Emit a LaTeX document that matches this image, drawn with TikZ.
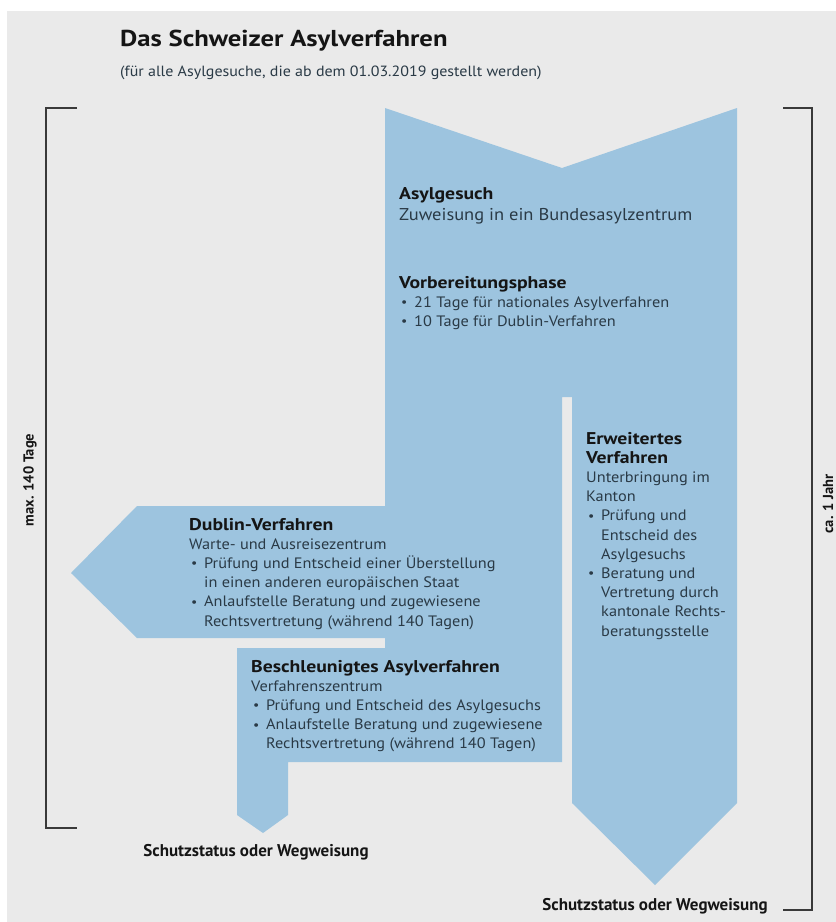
\documentclass[tikz,border=0pt]{standalone}
\usepackage{fontspec}
\setmainfont{PT Sans}[FakeStretch=1.08]
\newfontfamily\hdfont{PT Sans}[FakeStretch=1.16]
\newfontfamily\lblfont{PT Sans}
\definecolor{bg}{HTML}{EAEAEA}
\definecolor{flow}{HTML}{9DC4DF}
\definecolor{ink}{HTML}{151515}
\definecolor{bodyink}{HTML}{2A3A46}
\definecolor{rulec}{HTML}{3A3A3A}
\newcommand{\Hd}[1]{\hbox{\fontsize{17}{19.2}\hdfont\bfseries\color{ink}#1}}
\newcommand{\Tx}[1]{\hbox{#1}}
\newcommand{\Dot}{\raisebox{0.6pt}{\scalebox{0.85}{\textbullet}}}
\newcommand{\Bu}[1]{\hbox{\hspace*{2pt}\makebox[13pt][l]{\Dot}#1}}
\newcommand{\Co}[1]{\hbox{\hspace*{15pt}#1}}
\newcommand{\Blk}[1]{\vtop{\baselineskip=19.2pt\lineskiplimit=-100pt\relax #1}}
\tikzset{
  txt/.style={anchor=base west, inner sep=0pt, font=\fontsize{15.1}{19.2}\selectfont, text=bodyink},
  sidelabel/.style={rotate=90, inner sep=0pt, font=\fontsize{14.5}{16}\lblfont\bfseries, text=ink},
  outlabel/.style={anchor=base, inner sep=0pt, font=\fontsize{17}{19}\lblfont\bfseries, text=ink},
  bracket/.style={draw=rulec, line width=1.3pt},
}
\begin{document}
\begin{tikzpicture}[x=1pt,y=-1pt]
\useasboundingbox (0,0) rectangle (836,922);
\fill[white] (0,0) rectangle (836,922);
\fill[bg] (7,11) rectangle (836,922);
% flow shape
\fill[flow] (385,108) -- (562,168) -- (737,108) -- (737,803) -- (655,885) -- (572,803)
  -- (572,397) -- (562,397) -- (562,762) -- (288,762) -- (288,815) -- (263,833)
  -- (237,815) -- (237,648) -- (385,648) -- (385,638) -- (137,638) -- (71,573)
  -- (137,506) -- (385,506) -- cycle;
% brackets
\draw[bracket] (77,108) -- (46,108) -- (46,828) -- (77,828);
\draw[bracket] (783,108) -- (812,108) -- (812,910) -- (783,910);
% title
\node[anchor=base west, inner sep=0pt, font=\fontsize{23}{26}\hdfont\bfseries, text=ink] (title) at (120,46) {Das Schweizer Asylverfahren};
\node[anchor=base west, inner sep=0pt, font=\fontsize{14.8}{16}\selectfont, text=bodyink] (subtitle) at (120,76) {(für alle Asylgesuche, die ab dem 01.03.2019 gestellt werden)};
% side labels
\node[sidelabel] (maxtage) at (30,480) {max. 140 Tage};
\node[sidelabel] (jahr) at (828,504) {ca. 1 Jahr};
% blocks
\node[txt] (asyl) at (399,199) {\Blk{\Hd{Asylgesuch}\vskip2pt\hbox{\fontsize{17.1}{19.2}\selectfont Zuweisung in ein Bundesasylzentrum}}};
\node[txt] (vorb) at (399,288) {\Blk{\Hd{Vorbereitungsphase}\Bu{21 Tage für nationales Asylverfahren}\Bu{10 Tage für Dublin-Verfahren}}};
\node[txt] (dublin) at (189,530) {\Blk{\Hd{Dublin-Verfahren}\Tx{Warte- und Ausreisezentrum}\Bu{Prüfung und Entscheid einer Überstellung}\Co{in einen anderen europäischen Staat}\Bu{Anlaufstelle Beratung und zugewiesene}\Co{Rechtsvertretung (während 140 Tagen)}}};
\node[txt] (besch) at (251,672) {\Blk{\Hd{Beschleunigtes Asylverfahren}\Tx{Verfahrenszentrum}\Bu{Prüfung und Entscheid des Asylgesuchs}\Bu{Anlaufstelle Beratung und zugewiesene}\Co{Rechtsvertretung (während 140 Tagen)}}};
\node[txt] (erw) at (586,444) {\Blk{\Hd{Erweitertes}\Hd{Verfahren}\Tx{Unterbringung im}\Tx{Kanton}\Bu{Prüfung und}\Co{Entscheid des}\Co{Asylgesuchs}\Bu{Beratung und}\Co{Vertretung durch}\Co{kantonale Rechts-}\Co{beratungsstelle}}};
% outcomes
\node[outlabel] (out1) at (256,856) {Schutzstatus oder Wegweisung};
\node[outlabel] (out2) at (655,910) {Schutzstatus oder Wegweisung};
\end{tikzpicture}
\end{document}
